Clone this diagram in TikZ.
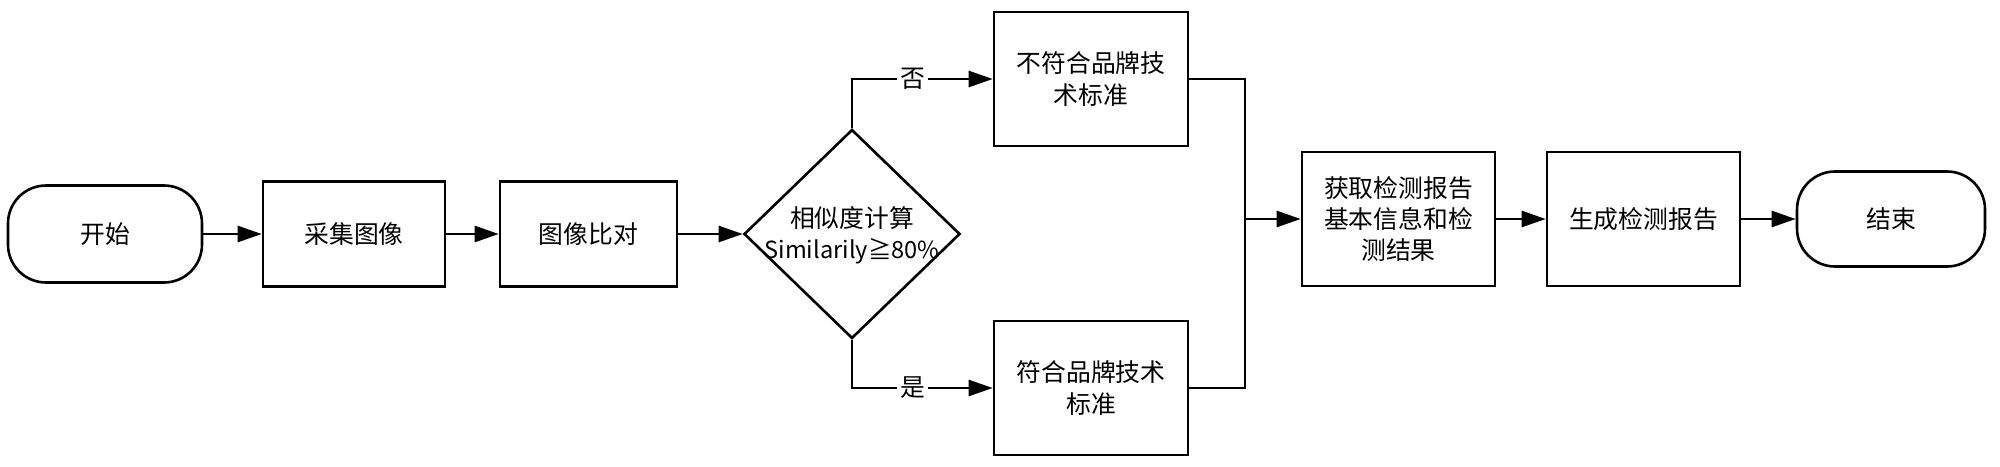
\documentclass[tikz,border=0pt]{standalone}
\usepackage{fontspec}
\setmainfont{Noto Sans CJK SC}
\usetikzlibrary{arrows.meta,shapes.geometric}
\begin{document}
\begin{tikzpicture}[x={(0.5pt,0)},y={(0,-0.5pt)},
  every node/.style={font=\fontsize{12.4pt}{15.6pt}\selectfont, align=center, inner sep=0pt},
  box/.style={draw, line width=1.3pt, rectangle, minimum width=#1},
  box/.default=97pt,
  term/.style={draw, line width=1.3pt, rectangle, rounded corners=19pt},
  conn/.style={line width=1.3pt},
  arr/.style={conn, -{Triangle[length=12pt,width=8pt]}},
  lab/.style={fill=white, inner sep=1.5pt}]
\useasboundingbox (0,0) rectangle (2000,466);
\node[term, minimum width=97pt, minimum height=48.5pt] (start) at (105,234) {开始};
\node[box=91pt, minimum height=52.5pt] (cj) at (354,234) {采集图像};
\node[box=88.5pt, minimum height=52.5pt] (cd) at (588.5,234) {图像比对};
\node[draw, line width=1.3pt, diamond, minimum width=108pt, minimum height=104.5pt] (dec) at (852,234) {};
\node (dect) at (852,235) {相似度计算\\{\fontsize{11.8pt}{15.6pt}\selectfont Similarily≧80\%}};
\node[box=97pt, minimum height=67pt] (no) at (1091,79) {不符合品牌技\\术标准};
\node[box=97pt, minimum height=67pt] (yes) at (1091,388) {符合品牌技术\\标准};
\node[box=96.5pt, minimum height=67pt] (get) at (1398.5,219) {获取检测报告\\基本信息和检\\测结果};
\node[box=96.5pt, minimum height=67pt] (gen) at (1643.5,219) {生成检测报告};
\node[term, minimum width=94pt, minimum height=47.5pt] (end) at (1891,219) {结束};
\coordinate (bus) at (1245,219);
\draw[arr] (start.east) -- (cj.west);
\draw[arr] (cj.east) -- (cd.west);
\draw[arr] (cd.east) -- (dec.west);
\draw[arr] (dec.north) |- node[lab, pos=0.715] (nolab) {否} (no.west);
\draw[arr] (dec.south) |- node[lab, pos=0.715] (yeslab) {是} (yes.west);
\draw[conn] (no.east) -| (bus);
\draw[conn] (yes.east) -| (bus);
\draw[arr] (bus) -- (get.west);
\draw[arr] (get.east) -- (gen.west);
\draw[arr] (gen.east) -- (end.west);
\end{tikzpicture}
\end{document}
